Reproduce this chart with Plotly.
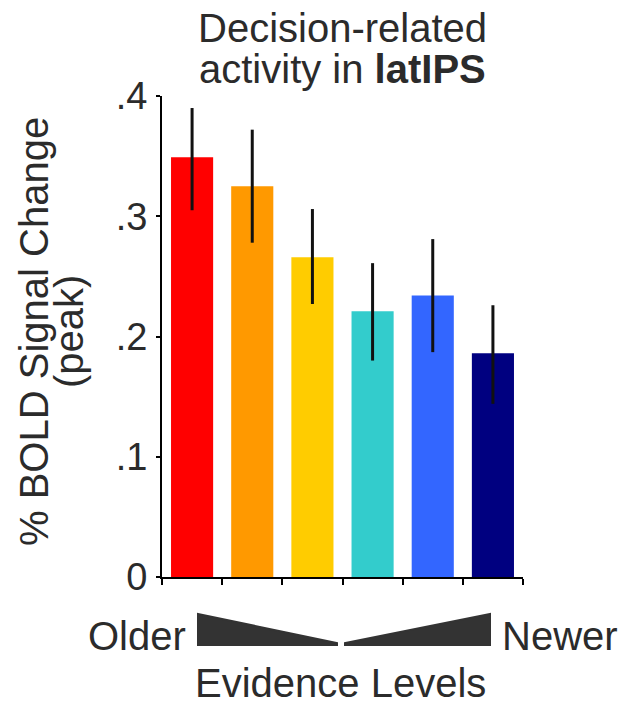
import plotly.graph_objects as go

# ---- data ----
levels = ["1", "2", "3", "4", "5", "6"]
values = [0.349, 0.325, 0.266, 0.221, 0.234, 0.186]
err_plus = [0.041, 0.047, 0.040, 0.040, 0.047, 0.040]
err_minus = [0.044, 0.047, 0.039, 0.041, 0.047, 0.042]
colors = ["#FF0000", "#FF9900", "#FFCC00", "#33CCCC", "#3366FF", "#000080"]
ytick_vals = [0, 0.1, 0.2, 0.3, 0.4]
ytick_text = ["0", ".1", ".2", ".3", ".4"]

W, H = 630, 706
PL, PR, PT, PB = 162, 523, 96, 577
TXT = "#2b2b2b"
FONT = "Liberation Sans, Arial, sans-serif"
FS = 40


def px(x):
    return (x - PL) / (PR - PL)


def py(y):
    return (PB - y) / (PB - PT)


fig = go.Figure()
fig.add_trace(go.Bar(
    x=levels, y=values, width=0.7,
    marker=dict(color=colors, line=dict(width=0)),
    error_y=dict(type="data", symmetric=False, array=err_plus, arrayminus=err_minus,
                 color="#111111", thickness=3, width=0),
    showlegend=False,
))

fig.update_layout(
    width=W, height=H,
    margin=dict(l=PL, r=W - PR, t=PT, b=H - PB),
    paper_bgcolor="white", plot_bgcolor="white",
    font=dict(family=FONT, color=TXT, size=FS),
    xaxis=dict(type="category", tickson="boundaries", ticks="outside", ticklen=6,
               tickwidth=2, tickcolor="black", showticklabels=False,
               showline=True, linecolor="black", linewidth=2, showgrid=False,
               zeroline=False),
    yaxis=dict(range=[0, 0.4], tickvals=ytick_vals, ticktext=ytick_text,
               ticks="outside", ticklen=4, tickwidth=2, tickcolor="black",
               showline=True, linecolor="black", linewidth=2, showgrid=False,
               zeroline=False, tickfont=dict(size=38, color=TXT),
               ticklabelstandoff=1),
    bargap=0.3,
)


def label(text, x, y, angle=0, size=FS):
    return dict(text=text, x=px(x), y=py(y), xref="paper", yref="paper",
                showarrow=False, textangle=angle, font=dict(size=size, color=TXT),
                xanchor="center", yanchor="middle")


ann = [
    label("Decision-related", 342, 28),
    label("activity in <b>latIPS</b>", 342, 69),
    label("% BOLD Signal Change", 34, 332, -90),
    label("(peak)", 69, 332, -90),
    label("Older", 137, 636),
    label("Newer", 560, 636),
    label("Evidence Levels", 340, 683),
]
fig.update_layout(annotations=ann)


def path(points):
    return "M " + " L ".join(f"{px(a):.5f},{py(b):.5f}" for a, b in points) + " Z"


fig.add_shape(type="path", xref="paper", yref="paper",
              path=path([(198, 614), (198, 645), (337, 645), (337, 643)]),
              fillcolor="#333333", line=dict(color="#333333", width=2))
fig.add_shape(type="path", xref="paper", yref="paper",
              path=path([(345, 643), (345, 645), (490, 645), (490, 614)]),
              fillcolor="#333333", line=dict(color="#333333", width=2))

fig.write_html("out.html", config={"displayModeBar": False},
               post_script="document.body.style.margin='0';")
